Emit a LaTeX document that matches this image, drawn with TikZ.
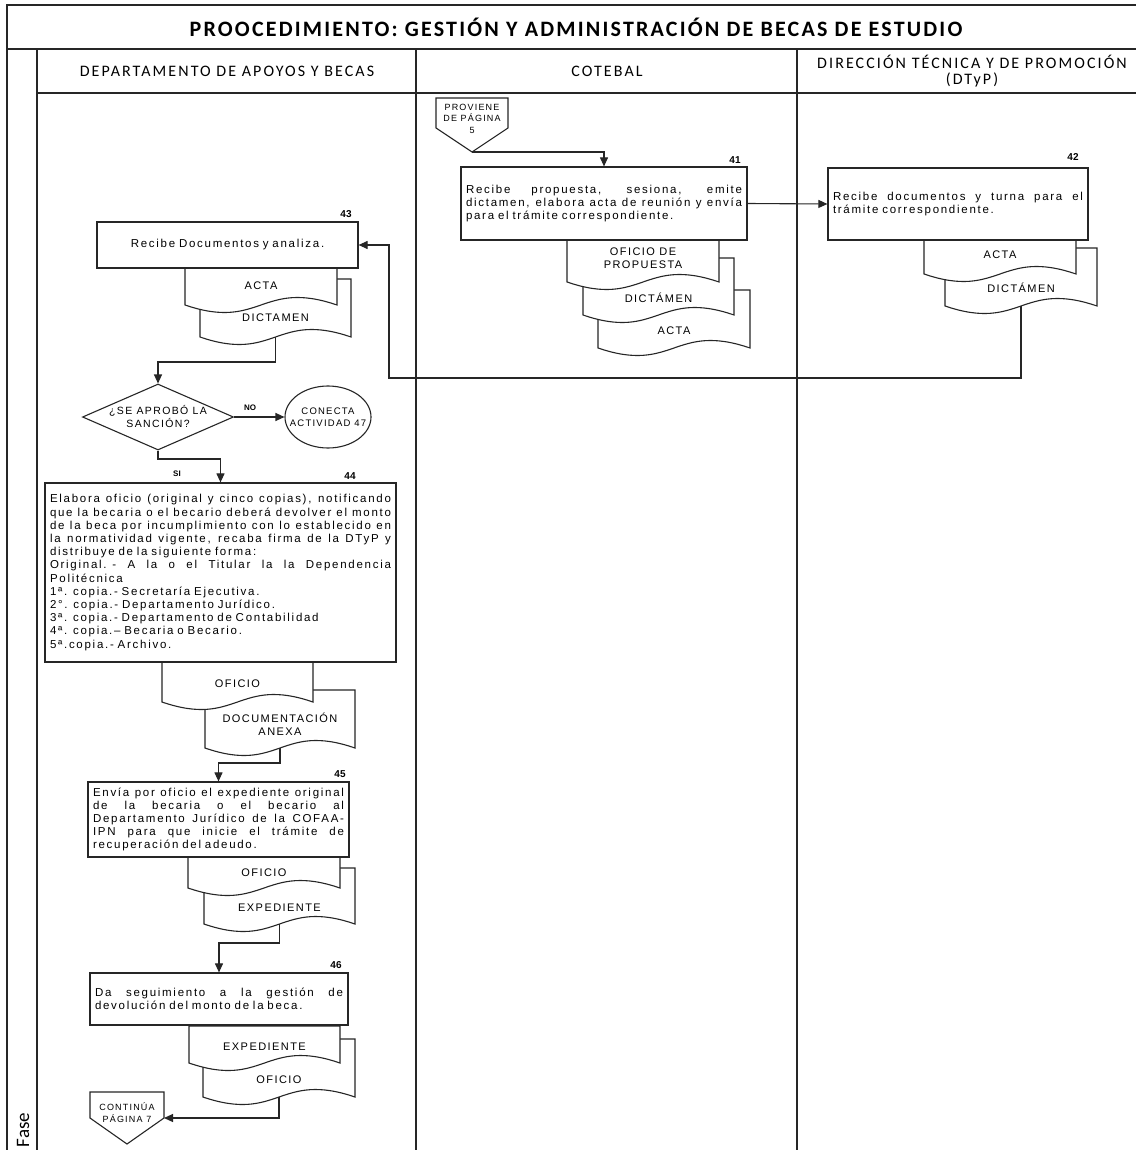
\documentclass[tikz,border=0pt]{standalone}
\usepackage{fontspec}
\setmainfont{Liberation Sans}
\newfontfamily\bodyfont[LetterSpace=15]{Liberation Sans}
\newfontfamily\docfont[LetterSpace=13]{Liberation Sans}
\newfontfamily\calfont[LetterSpace=13]{Carlito}
\newfontfamily\titfont[LetterSpace=10]{Carlito}
\newfontfamily\fasefont{Carlito}
\usetikzlibrary{arrows.meta,shapes.geometric}
\setlength\parindent{0pt}
\newcommand\jl[1]{\makebox[\hsize][s]{\spaceskip=0.28em plus 3em minus 0.14em\relax #1}\\}
\tikzset{
  grid/.style={line width=1.4pt, draw=black!85},
  proc/.style={draw=black!85, line width=1.2pt, fill=white, inner sep=5pt, align=left,
    font=\bodyfont\fontsize{11.5}{13.2}\selectfont},
  doctext/.style={font=\docfont\fontsize{11}{13}\selectfont, align=center, inner sep=0pt},
  smalltext/.style={font=\docfont\fontsize{9}{11.5}\selectfont, align=center, inner sep=0pt},
  docline/.style={draw=black!85, line width=1.1pt, fill=white},
  conn/.style={draw=black!85, line width=1.1pt, -{Triangle[length=9pt,width=8pt]}},
  num/.style={font=\bfseries\fontsize{10}{12}\selectfont, inner sep=0pt},
  lab/.style={font=\bfseries\fontsize{8}{10}\selectfont, inner sep=0pt},
  head/.style={font=\calfont\fontsize{16}{16}\selectfont, align=center, inner sep=0pt},
}
\newcommand\docu[7]{%
  \draw[docline] (#2,#3) -- (#2,#5) .. controls ({#2+0.5*#4},{#5+26}) and ({#2+0.5*#4},{#5-26}) .. ({#2+#4},#5) -- ({#2+#4},#3) -- cycle;
  \node[doctext] (#1) at ({#2+0.5*#4},#6) {#7};
  \coordinate (#1-b) at ({#2+0.5*#4},#5);
}
\begin{document}
\begin{tikzpicture}[x=1pt,y=-1pt]
\useasboundingbox (0,0) rectangle (1136,1150);
\fill[white] (0,0) rectangle (1136,1150);
% grid
\draw[grid] (7,1150) -- (7,5) -- (1136,5);
\draw[grid] (7,49) -- (1136,49);
\draw[grid] (37,49) -- (37,1150);
\draw[grid] (37,93) -- (1136,93);
\draw[grid] (416,49) -- (416,1150);
\draw[grid] (797,49) -- (797,1150);
\node[font=\titfont\bfseries\fontsize{22}{24}\selectfont, inner sep=0pt] (title) at (576,27) {PROOCEDIMIENTO: GESTIÓN Y ADMINISTRACIÓN DE BECAS DE ESTUDIO};
\node[head] (h1) at (227,71) {DEPARTAMENTO DE APOYOS Y BECAS};
\node[head] (h2) at (607,71) {COTEBAL};
\node[head] (h3) at (972,71) {DIRECCIÓN TÉCNICA Y DE PROMOCIÓN\\(DTyP)};
\node[font=\fasefont\fontsize{19}{21}\selectfont, rotate=90, anchor=base, inner sep=0pt] (fase) at (29,1130) {Fase};

% documents
\docu{d41c}{598}{290}{152}{348}{331}{ACTA}
\docu{d41b}{583}{258}{151}{315}{298}{DICTÁMEN}
\docu{d41a}{567}{240}{152}{282}{258.5}{OFICIO DE\\PROPUESTA}
\docu{d42b}{945}{248}{152}{306}{288}{DICTÁMEN}
\docu{d42a}{924}{240}{152}{274}{255}{ACTA}
\docu{d43b}{200}{279}{151}{337}{318}{DICTAMEN}
\docu{d43a}{185}{268}{152}{305}{286}{ACTA}
\docu{d44b}{205}{690}{150}{748}{724}{DOCUMENTACIÓN\\ANEXA}
\docu{d44a}{162}{662}{151}{702}{684}{OFICIO}
\docu{d45b}{204}{868}{151}{924}{908}{EXPEDIENTE}
\docu{d45a}{188}{857}{152}{888}{873}{OFICIO}
\docu{d46b}{203}{1039}{152}{1097}{1080}{OFICIO}
\docu{d46a}{189}{1026}{151}{1063}{1047}{EXPEDIENTE}

% off-page connectors
\draw[docline] (436,98) -- (508,98) -- (508,128) -- (472,152) -- (436,128) -- cycle;
\node[smalltext] (p5) at (472,118.5) {PROVIENE\\DE PÁGINA\\5};
\coordinate (p5tip) at (472,152);
\draw[docline] (90,1092) -- (164,1092) -- (164,1118) -- (127,1144) -- (90,1118) -- cycle;
\node[smalltext] (p7) at (127,1112.5) {CONTINÚA\\PÁGINA 7};
\coordinate (p7e) at (164,1118);

% process boxes
\node[proc, text width=276pt, minimum height=73pt] (b41) at (604,203.5)
  {\jl{Recibe propuesta, sesiona, emite}\jl{dictamen, elabora acta de reunión y envía}para el trámite correspondiente.};
\node[proc, text width=250pt, minimum height=72pt] (b42) at (958,204)
  {\jl{Recibe documentos y turna para el}trámite correspondiente.};
\node[proc, text width=251pt, minimum height=46pt, align=center] (b43) at (227.5,245)
  {Recibe Documentos y analiza.};
\node[proc, text width=341pt, minimum height=179pt] (b44) at (220.5,572.5)
  {\jl{Elabora oficio (original y cinco copias), notificando}%
   \jl{que la becaria o el becario deberá devolver el monto}%
   \jl{de la beca por incumplimiento con lo establecido en}%
   \jl{la normatividad vigente, recaba firma de la DTyP y}%
   distribuye de la siguiente forma:\\
   \jl{Original. - A la o el Titular la la Dependencia}%
   Politécnica\\
   1ª. copia.- Secretaría Ejecutiva.\\
   2°. copia.- Departamento Jurídico.\\
   3ª. copia.- Departamento de Contabilidad\\
   4ª. copia.– Becaria o Becario.\\
   5ª.copia.- Archivo.};
\node[proc, text width=251pt, minimum height=75pt] (b45) at (218.5,819.5)
  {\jl{Envía por oficio el expediente original}%
   \jl{de la becaria o el becario al}%
   \jl{Departamento Jurídico de la COFAA-}%
   \jl{IPN para que inicie el trámite de}%
   recuperación del adeudo.};
\node[proc, text width=248pt, minimum height=52pt] (b46) at (219,999)
  {\jl{Da seguimiento a la gestión de}devolución del monto de la beca.};

% decision and connector
\node[draw=black!85, line width=1.1pt, diamond, minimum width=151pt, minimum height=66pt, inner sep=0pt, fill=white] (dia) at (158,417) {};
\node[font=\docfont\fontsize{10.5}{13}\selectfont, align=center, inner sep=0pt] (diat) at (158,416.5) {¿SE APROBÓ LA\\SANCIÓN?};
\node[draw=black!85, line width=1.1pt, ellipse, minimum width=86pt, minimum height=62pt, inner sep=0pt, fill=white] (c47) at (328,417) {};
\node[font=\docfont\fontsize{9.5}{12}\selectfont, align=center, inner sep=0pt] (c47t) at (328,417) {CONECTA\\ACTIVIDAD 47};

% step numbers
\node[num] (n41) at (735,160) {41};
\node[num] (n42) at (1073,157) {42};
\node[num] (n43) at (346,214) {43};
\node[num] (n44) at (350,476) {44};
\node[num] (n45) at (340,774) {45};
\node[num] (n46) at (336,965) {46};
\node[lab] (lno) at (250,408) {NO};
\node[lab] (lsi) at (177,474) {SI};

% connectors
\draw[conn] (p5tip) -| (b41.north);
\draw[conn] (b41.east) -- (b42.west);
\draw[conn] (d42b-b) |- (389,378) |- (b43.east);
\draw[conn] (d43b-b) |- (158,362) -- (dia.north);
\draw[conn] (dia.east) -- (c47.west);
\draw[conn] (dia.south) -- (158,459) -| (b44.north);
\draw[conn] (d44b-b) |- (218.5,763) -- (b45.north);
\draw[conn] (d45b-b) |- (219,943) -- (b46.north);
\draw[conn] (d46b-b) |- (p7e);
\end{tikzpicture}
\end{document}
